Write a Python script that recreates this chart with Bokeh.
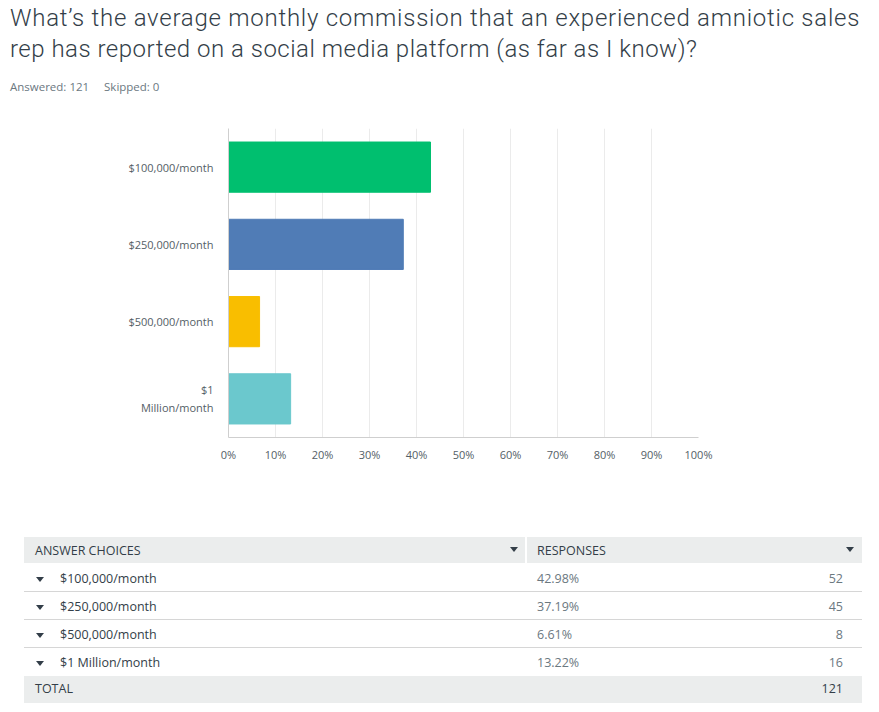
from bokeh.plotting import figure
from bokeh.layouts import column
from bokeh.models import Div, Range1d, FixedTicker, NumeralTickFormatter, ColumnDataSource
from bokeh.embed import file_html
from bokeh.resources import INLINE

# ---------------- data ----------------
title_line1 = "What\u2019s the average monthly commission that an experienced amniotic sales"
title_line2 = "rep has reported on a social media platform (as far as I know)?"
answered = 121
skipped = 0
choices = ["$100,000/month", "$250,000/month", "$500,000/month", "$1 Million/month"]
axis_labels = ["$100,000/month", "$250,000/month", "$500,000/month", "$1\nMillion/month"]
shares = [0.4298, 0.3719, 0.0661, 0.1322]
pct_labels = ["42.98%", "37.19%", "6.61%", "13.22%"]
counts = [52, 45, 8, 16]
total = 121
bar_colors = ["#00bf6f", "#507cb6", "#f9be00", "#6bc8cd"]
x_ticks = [0.0, 0.1, 0.2, 0.3, 0.4, 0.5, 0.6, 0.7, 0.8, 0.9, 1.0]

FONT = "Open Sans"
W = 879
DARK = "#333e48"
GREY = "#6b787f"

# ---------------- header ----------------
head = Div(
    text=(
        f'<div style="font-family:Roboto;font-weight:300;font-size:24px;line-height:31px;'
        f'color:{DARK};padding:3px 0 0 10px;white-space:nowrap;">'
        f'<span style="letter-spacing:0.75px;">{title_line1}</span><br>'
        f'<span style="letter-spacing:0.5px;">{title_line2}</span></div>'
        f'<div style="font-family:\'Open Sans\';font-size:11.5px;color:{GREY};padding:14px 10px 0 10px;">'
        f'Answered: {answered}&nbsp;&nbsp;&nbsp;&nbsp; Skipped: {skipped}</div>'
    ),
    width=W, height=110, margin=(0, 0, 0, 0),
)

# ---------------- chart ----------------
p = figure(
    width=W, height=410, y_range=axis_labels[::-1],
    x_range=Range1d(0, 1), output_backend="svg", toolbar_location=None,
    min_border_left=228, min_border_right=181, min_border_top=18, min_border_bottom=83,
    margin=(0, 0, 0, 0),
)
src = ColumnDataSource(dict(y=axis_labels, v=shares, c=bar_colors))
p.hbar(y="y", right="v", left=0, height=0.65, color="c", source=src)
p.outline_line_color = None
p.ygrid.grid_line_color = None
p.xgrid.grid_line_color = "#ebebeb"
p.xaxis.ticker = FixedTicker(ticks=x_ticks)
p.xgrid.ticker = FixedTicker(ticks=x_ticks)
p.xaxis.formatter = NumeralTickFormatter(format="0%")
for ax in (p.xaxis, p.yaxis):
    ax.axis_line_color = "#cfcfcf"
    ax.major_tick_line_color = None
    ax.minor_tick_line_color = None
    ax.major_label_text_font = FONT
    ax.major_label_text_font_size = "11px"
    ax.major_label_text_color = "#545e66"
p.xaxis.major_label_standoff = 3
p.yaxis.major_label_standoff = 9

# ---------------- table (HTML built from the arrays) ----------------
row_h = 28


def tri_at(x, y):
    return (f'<span style="position:absolute;left:{x}px;top:{y}px;width:0;height:0;'
            f'border-left:4px solid transparent;border-right:4px solid transparent;'
            f'border-top:5px solid {DARK};"></span>')


parts = []
parts.append(
    f'<div style="position:absolute;left:24px;top:17px;width:838px;height:26px;background:#ebeded;'
    f'line-height:28px;color:{DARK};">'
    f'<span style="position:absolute;left:11px;">ANSWER CHOICES</span>'
    f'{tri_at(486, 10)}'
    f'<span style="position:absolute;left:501px;top:0;width:2px;height:26px;background:#fff;"></span>'
    f'<span style="position:absolute;left:513px;">RESPONSES</span>'
    f'{tri_at(822, 10)}</div>'
)
top = 45
for i, (ch, pc, ct) in enumerate(zip(choices, pct_labels, counts)):
    border = "border-bottom:1px solid #d6d6d6;" if i < len(choices) - 1 else ""
    parts.append(
        f'<div style="position:absolute;left:24px;top:{top + i * row_h}px;width:838px;height:{row_h - 1 if border else row_h - 2}px;'
        f'{border}line-height:{row_h}px;">'
        f'{tri_at(12, 12)}'
        f'<span style="position:absolute;left:36px;color:{DARK};">{ch}</span>'
        f'<span style="position:absolute;left:513px;color:{GREY};">{pc}</span>'
        f'<span style="position:absolute;right:19px;color:{GREY};">{ct}</span></div>'
    )
ttop = 44 + row_h * len(choices)
parts.append(
    f'<div style="position:absolute;left:24px;top:{ttop}px;width:838px;height:27px;background:#ebeded;'
    f'line-height:26px;color:{DARK};">'
    f'<span style="position:absolute;left:11px;">TOTAL</span>'
    f'<span style="position:absolute;right:19px;">{total}</span></div>'
)
table = Div(
    text=(f'<div style="position:relative;width:{W}px;height:192px;font-family:\'Open Sans\';'
          f'font-size:12.5px;">' + "".join(parts) + '</div>'),
    width=W, height=192, margin=(0, 0, 0, 0),
)

layout = column(head, p, table, spacing=0)
open("out.html", "w").write(file_html(layout, INLINE))
